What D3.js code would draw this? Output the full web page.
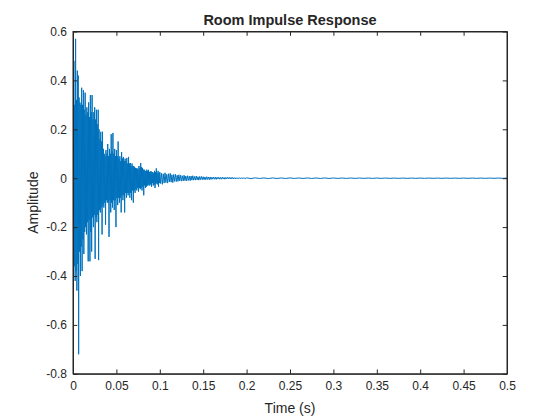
<!DOCTYPE html>
<html>
<head>
<meta charset="utf-8">
<script src="https://cdn.jsdelivr.net/npm/d3@7"></script>
<style>
  html, body { margin: 0; padding: 0; background: #ffffff; }
  svg { display: block; }
  text { font-family: "Liberation Sans", Arial, Helvetica, sans-serif; fill: #262626; }
</style>
</head>
<body>
<svg id="chart" width="560" height="420"></svg>
<script>
// ---- data ----
const titleText = "Room Impulse Response";
const xLabelText = "Time (s)";
const yLabelText = "Amplitude";
const xTicks = [0, 0.05, 0.1, 0.15, 0.2, 0.25, 0.3, 0.35, 0.4, 0.45, 0.5];
const xTickLabels = ["0", "0.05", "0.1", "0.15", "0.2", "0.25", "0.3", "0.35", "0.4", "0.45", "0.5"];
const yTicks = [-0.8, -0.6, -0.4, -0.2, 0, 0.2, 0.4, 0.6];
const yTickLabels = ["-0.8", "-0.6", "-0.4", "-0.2", "0", "0.2", "0.4", "0.6"];

// first 0.1 s of the response, one value every 0.5 ms
const earlyStep = 0.0005;
const earlyValues = [
  0.18, -0.05, 0.48, -0.36, 0.30, -0.42, 0.57, -0.38, 0.32, -0.46,
  0.44, -0.35, 0.42, -0.72, 0.33, -0.30, 0.31, -0.40, 0.30, -0.28,
  0.37, -0.38, 0.30, -0.25, 0.36, -0.31, 0.28, -0.22, 0.35, -0.20,
  0.26, -0.23, 0.29, -0.18, 0.27, -0.34, 0.31, -0.17, 0.25, -0.34,
  0.34, -0.22, 0.27, -0.30, 0.34, -0.16, 0.24, -0.20, 0.27, -0.15,
  0.29, -0.33, 0.24, -0.16, 0.28, -0.18, 0.22, -0.15, 0.28, -0.335,
  0.20, -0.13, 0.16, -0.14, 0.19, -0.12, 0.15, -0.23, 0.19, -0.11,
  0.12, -0.12, 0.10, -0.10, 0.09, -0.19, 0.115, -0.09, 0.10, -0.10,
  0.14, -0.10, 0.09, -0.24, 0.12, -0.09, 0.10, -0.14, 0.18, -0.10,
  0.11, -0.12, 0.185, -0.09, 0.10, -0.13, 0.12, -0.09, 0.09, -0.20,
  0.115, -0.08, 0.09, -0.11, 0.15, -0.08, 0.08, -0.10, 0.09, -0.08,
  0.07, -0.14, 0.107, -0.07, 0.08, -0.09, 0.087, -0.07, 0.07, -0.14,
  0.08, -0.06, 0.07, -0.08, 0.083, -0.06, 0.06, -0.07, 0.087, -0.06,
  0.06, -0.08, 0.062, -0.06, 0.05, -0.09, 0.06, -0.05, 0.05, -0.10,
  0.05, -0.05, 0.045, -0.06, 0.042, -0.045, 0.04, -0.05, 0.04, -0.04,
  0.035, -0.055, 0.05, -0.04, 0.04, -0.045, 0.062, -0.04, 0.045, -0.05,
  0.042, -0.035, 0.035, -0.07, 0.035, -0.03, 0.03, -0.04, 0.03, -0.035,
  0.035, -0.03, 0.03, -0.03, 0.034, -0.025, 0.025, -0.03, 0.028, -0.025,
  0.028, -0.035, 0.025, -0.02, 0.025, -0.03, 0.02, -0.025, 0.03, -0.04,
  0.025, -0.025, 0.04, -0.02, 0.02, -0.025, 0.03, -0.035, 0.022, -0.02
];

// 0.1 .. 0.2 s, one value per millisecond
const midStart = 0.1;
const midStep = 0.001;
const midValues = [
  0.025, -0.022, 0.02, -0.025, 0.018, -0.02, 0.022, -0.018, 0.016, -0.02,
  0.018, -0.015, 0.02, -0.016, 0.014, -0.018, 0.015, -0.013, 0.016, -0.014,
  0.012, -0.013, 0.014, -0.011, 0.012, -0.012, 0.01, -0.011, 0.012, -0.01,
  0.009, -0.011, 0.01, -0.009, 0.008, -0.01, 0.009, -0.008, 0.01, -0.008,
  0.007, -0.008, 0.009, -0.007, 0.006, -0.008, 0.007, -0.006, 0.007, -0.006,
  0.006, -0.006, 0.005, -0.006, 0.006, -0.005, 0.005, -0.006, 0.005, -0.005,
  0.004, -0.004, 0.005, -0.004, 0.004, -0.005, 0.004, -0.003, 0.004, -0.004,
  0.003, -0.004, 0.004, -0.003, 0.003, -0.004, 0.003, -0.003, 0.004, -0.003,
  0.003, -0.003, 0.003, -0.003, 0.003, -0.003, 0.002, -0.003, 0.002, -0.002,
  0.002, -0.002, 0.002, -0.002, 0.002, -0.002, 0.002, -0.002, 0.002, -0.002,
  0.0015
];

// late tail, one value every 5 ms (0.205 .. 0.5 s)
const tailStart = 0.205;
const tailStep = 0.005;
const tailValues = [
  -0.0015, 0.0015, -0.0012, 0.0012, -0.0015, 0.0012, -0.0012, 0.001, -0.0012, 0.0012,
  -0.001, 0.001, -0.001, 0.001, -0.001, 0.001, -0.001, 0.001, -0.001, 0.001,
  -0.0008, 0.0008, -0.0008, 0.0008, -0.0008, 0.0008, -0.0008, 0.0008, -0.0008, 0.0008,
  -0.0006, 0.0006, -0.0006, 0.0006, -0.0006, 0.0006, -0.0006, 0.0006, -0.0006, 0.0006,
  -0.0005, 0.0005, -0.0005, 0.0005, -0.0005, 0.0005, -0.0005, 0.0005, -0.0005, 0.0005,
  -0.0005, 0.0005, -0.0005, 0.0005, -0.0005, 0.0005, -0.0005, 0.0005, -0.0005, 0.0005
];

// ---- build the series ----
const series = earlyValues.map((v, i) => ({ t: i * earlyStep, v }))
  .concat(midValues.map((v, i) => ({ t: midStart + i * midStep, v })))
  .concat(tailValues.map((v, i) => ({ t: tailStart + i * tailStep, v })));

// ---- layout ----
const plotL = 73, plotR = 507, plotT = 31.5, plotB = 373.8;
const svg = d3.select("#chart");

const x = d3.scaleLinear().domain([0, 0.5]).range([plotL, plotR]);
const y = d3.scaleLinear().domain([-0.8, 0.6]).range([plotB, plotT]);

svg.append("defs").append("clipPath").attr("id", "clip")
  .append("rect").attr("x", plotL).attr("y", plotT)
  .attr("width", plotR - plotL).attr("height", plotB - plotT);

svg.append("rect").attr("x", plotL).attr("y", plotT)
  .attr("width", plotR - plotL).attr("height", plotB - plotT)
  .attr("fill", "#ffffff");

// data line
const line = d3.line().x(d => x(d.t)).y(d => y(d.v));
svg.append("path")
  .datum(series)
  .attr("clip-path", "url(#clip)")
  .attr("fill", "none")
  .attr("stroke", "#0072BD")
  .attr("stroke-width", 1.0)
  .attr("stroke-linejoin", "miter")
  .attr("d", line);

// axes (MATLAB style, inward ticks on all four sides)
const tickLen = 4.3;
const axisColor = "#262626";
const fmtX = (d, i) => xTickLabels[i];
const fmtY = (d, i) => yTickLabels[i];

const gx = svg.append("g").attr("transform", `translate(0,${plotB})`)
  .call(d3.axisBottom(x).tickValues(xTicks).tickFormat(fmtX).tickSizeInner(-tickLen).tickSizeOuter(0).tickPadding(8));
const gxTop = svg.append("g").attr("transform", `translate(0,${plotT})`)
  .call(d3.axisTop(x).tickValues(xTicks).tickFormat("").tickSizeInner(-tickLen).tickSizeOuter(0));
const gy = svg.append("g").attr("transform", `translate(${plotL},0)`)
  .call(d3.axisLeft(y).tickValues(yTicks).tickFormat(fmtY).tickSizeInner(-tickLen).tickSizeOuter(0).tickPadding(6));
const gyRight = svg.append("g").attr("transform", `translate(${plotR},0)`)
  .call(d3.axisRight(y).tickValues(yTicks).tickFormat("").tickSizeInner(-tickLen).tickSizeOuter(0));

[gx, gxTop, gy, gyRight].forEach(g => {
  g.selectAll(".domain").attr("stroke", axisColor).attr("stroke-width", 1);
  g.selectAll(".tick line").attr("stroke", axisColor).attr("stroke-width", 1);
  g.selectAll(".tick text").attr("fill", axisColor)
    .style("font-family", '"Liberation Sans", Arial, Helvetica, sans-serif')
    .style("font-size", "12px");
});

svg.append("rect").attr("x", plotL).attr("y", plotT)
  .attr("width", plotR - plotL).attr("height", plotB - plotT)
  .attr("fill", "none").attr("stroke", axisColor).attr("stroke-width", 1);

// title and labels
svg.append("text").attr("x", (plotL + plotR) / 2).attr("y", 25)
  .attr("text-anchor", "middle")
  .style("font-size", "14.5px").style("font-weight", "bold")
  .attr("fill", "#000000")
  .text(titleText);

svg.append("text").attr("x", (plotL + plotR) / 2).attr("y", 413)
  .attr("text-anchor", "middle").style("font-size", "14px")
  .text(xLabelText);

svg.append("text")
  .attr("transform", `translate(38,${(plotT + plotB) / 2}) rotate(-90)`)
  .attr("text-anchor", "middle").style("font-size", "14px")
  .text(yLabelText);
</script>
</body>
</html>
